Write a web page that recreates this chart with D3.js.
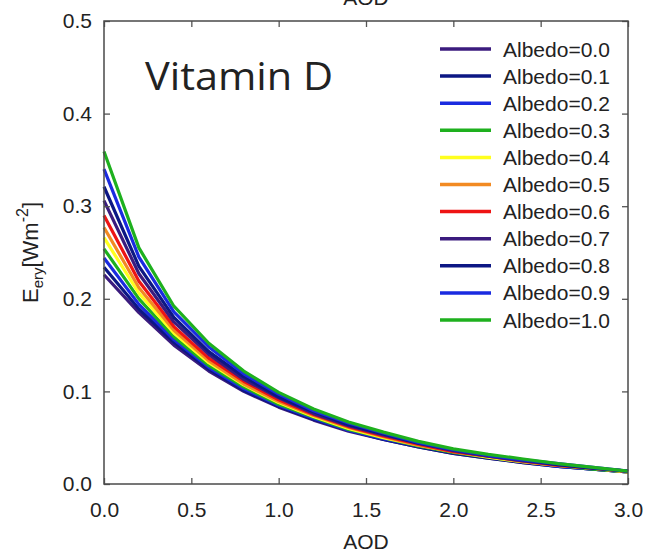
<!DOCTYPE html>
<html>
<head>
<meta charset="utf-8">
<script src="https://cdn.jsdelivr.net/npm/d3@7"></script>
<style>
  body { margin: 0; background: #fff; }
  text { font-family: 'Liberation Sans', Arial, sans-serif; fill: #222; }
</style>
</head>
<body>
<svg id="chart"></svg>
<script>
// AOD sample points
const aod = [0.0, 0.2, 0.4, 0.6, 0.8, 1.0, 1.2, 1.4, 1.6, 1.8, 2.0, 2.2, 2.4, 2.6, 2.8, 3.0];

const albedoLabels = ['Albedo=0.0', 'Albedo=0.1', 'Albedo=0.2', 'Albedo=0.3', 'Albedo=0.4', 'Albedo=0.5',
  'Albedo=0.6', 'Albedo=0.7', 'Albedo=0.8', 'Albedo=0.9', 'Albedo=1.0'];
const albedoColors = ['#3b1b7e', '#0c1784', '#1a2be0', '#1eb01e', '#ffff1e', '#f28a22',
  '#ee1414', '#3b1b7e', '#0c1784', '#1a2be0', '#1eb01e'];

// E_ery values, one array per albedo
const ery00 = [0.226, 0.185, 0.150, 0.122, 0.100, 0.083, 0.069, 0.057, 0.048, 0.040, 0.033, 0.028, 0.023, 0.019, 0.016, 0.013];
const ery01 = [0.234, 0.189, 0.153, 0.124, 0.101, 0.084, 0.070, 0.058, 0.048, 0.040, 0.033, 0.028, 0.023, 0.019, 0.016, 0.013];
const ery02 = [0.244, 0.194, 0.156, 0.126, 0.103, 0.085, 0.071, 0.058, 0.049, 0.041, 0.034, 0.029, 0.024, 0.019, 0.016, 0.013];
const ery03 = [0.254, 0.200, 0.159, 0.128, 0.105, 0.086, 0.072, 0.059, 0.050, 0.041, 0.034, 0.029, 0.024, 0.020, 0.016, 0.013];
const ery04 = [0.266, 0.206, 0.163, 0.131, 0.107, 0.088, 0.073, 0.060, 0.050, 0.042, 0.035, 0.029, 0.024, 0.020, 0.017, 0.013];
const ery05 = [0.277, 0.212, 0.166, 0.133, 0.108, 0.089, 0.074, 0.061, 0.051, 0.042, 0.035, 0.030, 0.024, 0.020, 0.017, 0.013];
const ery06 = [0.290, 0.219, 0.170, 0.136, 0.111, 0.091, 0.075, 0.062, 0.052, 0.043, 0.035, 0.030, 0.025, 0.020, 0.017, 0.014];
const ery07 = [0.306, 0.227, 0.175, 0.140, 0.113, 0.093, 0.076, 0.063, 0.053, 0.044, 0.036, 0.030, 0.025, 0.021, 0.017, 0.014];
const ery08 = [0.321, 0.235, 0.180, 0.143, 0.116, 0.094, 0.078, 0.064, 0.054, 0.044, 0.037, 0.031, 0.026, 0.021, 0.017, 0.014];
const ery09 = [0.340, 0.245, 0.186, 0.148, 0.119, 0.097, 0.079, 0.066, 0.055, 0.045, 0.037, 0.031, 0.026, 0.022, 0.018, 0.014];
const ery10 = [0.359, 0.255, 0.192, 0.152, 0.122, 0.099, 0.081, 0.067, 0.056, 0.046, 0.038, 0.032, 0.027, 0.022, 0.018, 0.014];

const series = [ery00, ery01, ery02, ery03, ery04, ery05, ery06, ery07, ery08, ery09, ery10];

const xTicks = [0, 0.5, 1.0, 1.5, 2.0, 2.5, 3.0];
const yTicks = [0, 0.1, 0.2, 0.3, 0.4, 0.5];

width = 648
height = 559
marginTop = 21
marginRight = 20
marginBottom = 75
marginLeft = 104

const svg = d3.select('#chart')
  .attr('width', width)
  .attr('height', height)
  .attr('viewBox', [0, 0, width, height]);

const x = d3.scaleLinear().domain([0, 3]).range([marginLeft, width - marginRight]);
const y = d3.scaleLinear().domain([0, 0.5]).range([height - marginBottom, marginTop]);

const line = d3.line()
  .x((d, i) => x(aod[i]))
  .y(d => y(d));

// curves, lowest albedo first so 1.0 ends on top
svg.append('g')
  .selectAll('path')
  .data(series)
  .enter().append('path')
  .attr('d', line)
  .attr('fill', 'none')
  .attr('stroke', (d, i) => albedoColors[i])
  .attr('stroke-width', 3.2)
  .attr('stroke-linejoin', 'round');

// axes with inward ticks, all four sides
const tickLen = 6;
const fmt = d3.format('.1f');

function styleAxis(g) {
  g.select('.domain').remove();
  g.selectAll('.tick line').attr('stroke', '#555').attr('stroke-width', 1.3);
  g.selectAll('.tick text').style('font-size', '21px').attr('fill', '#222');
}

svg.append('g')
  .attr('transform', `translate(0, ${y(0)})`)
  .call(d3.axisBottom(x).tickValues(xTicks).tickFormat(fmt).tickSizeInner(-tickLen).tickSizeOuter(0).tickPadding(18))
  .call(styleAxis);

svg.append('g')
  .attr('transform', `translate(0, ${y(0.5)})`)
  .call(d3.axisTop(x).tickValues(xTicks).tickFormat('').tickSizeInner(-tickLen).tickSizeOuter(0))
  .call(styleAxis);

svg.append('g')
  .attr('transform', `translate(${x(0)}, 0)`)
  .call(d3.axisLeft(y).tickValues(yTicks).tickFormat(fmt).tickSizeInner(-tickLen).tickSizeOuter(0).tickPadding(12))
  .call(styleAxis);

svg.append('g')
  .attr('transform', `translate(${x(3)}, 0)`)
  .call(d3.axisRight(y).tickValues(yTicks).tickFormat('').tickSizeInner(-tickLen).tickSizeOuter(0))
  .call(styleAxis);

// frame
svg.append('rect')
  .attr('x', x(0))
  .attr('y', y(0.5))
  .attr('width', x(3) - x(0))
  .attr('height', y(0) - y(0.5))
  .attr('fill', 'none')
  .attr('stroke', '#4a4a4a')
  .attr('stroke-width', 1.5);

// axis titles
const xMid = (x(0) + x(3)) / 2;
svg.append('text')
  .text('AOD')
  .attr('x', xMid)
  .attr('y', 549)
  .style('font-size', '21px')
  .style('text-anchor', 'middle');

// top title is cut off in the original, only its bottom shows
svg.append('text')
  .text('AOD')
  .attr('x', xMid)
  .attr('y', 5)
  .style('font-size', '21px')
  .style('text-anchor', 'middle');

const yLabel = svg.append('text')
  .attr('transform', `translate(38, ${(y(0) + y(0.5)) / 2}) rotate(-90)`)
  .style('font-size', '22px')
  .style('text-anchor', 'middle');
yLabel.append('tspan').text('E');
yLabel.append('tspan').text('ery').style('font-size', '15px').attr('baseline-shift', '-30%');
yLabel.append('tspan').text('[Wm');
yLabel.append('tspan').text('-2').style('font-size', '16px').attr('baseline-shift', '60%');
yLabel.append('tspan').text(']');

// Vitamin D note
svg.append('text')
  .text('Vitamin D')
  .attr('x', 145)
  .attr('y', 90)
  .attr('textLength', 188)
  .attr('lengthAdjust', 'spacingAndGlyphs')
  .style('font-family', "'Open Sans', 'Noto Sans', sans-serif")
  .style('font-size', '39px')
  .attr('fill', '#000');

// legend
const legendRow = 27.1;
const legend = svg.append('g').attr('transform', 'translate(440, 49)');
legend.selectAll('line')
  .data(albedoLabels)
  .enter().append('line')
  .attr('x1', 0)
  .attr('x2', 51)
  .attr('y1', (d, i) => i * legendRow)
  .attr('y2', (d, i) => i * legendRow)
  .attr('stroke', (d, i) => albedoColors[i])
  .attr('stroke-width', 3.5);
legend.selectAll('text')
  .data(albedoLabels)
  .enter().append('text')
  .text(d => d)
  .attr('x', 63)
  .attr('y', (d, i) => i * legendRow)
  .attr('dy', '0.36em')
  .style('font-size', '21px');
</script>
</body>
</html>
